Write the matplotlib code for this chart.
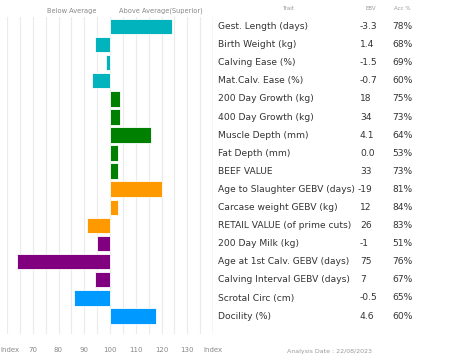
import numpy as np
import matplotlib
matplotlib.use("Agg")
import matplotlib.pyplot as plt

traits = [
    "Gest. Length (days)", "Birth Weight (kg)", "Calving Ease (%)",
    "Mat.Calv. Ease (%)", "200 Day Growth (kg)", "400 Day Growth (kg)",
    "Muscle Depth (mm)", "Fat Depth (mm)", "BEEF VALUE",
    "Age to Slaughter GEBV (days)", "Carcase weight GEBV (kg)",
    "RETAIL VALUE (of prime cuts)", "200 Day Milk (kg)",
    "Age at 1st Calv. GEBV (days)", "Calving Interval GEBV (days)",
    "Scrotal Circ (cm)", "Docility (%)",
]
ebv = ["-3.3", "1.4", "-1.5", "-0.7", "18", "34", "4.1", "0.0", "33",
       "-19", "12", "26", "-1", "75", "7", "-0.5", "4.6"]
acc = ["78%", "68%", "69%", "60%", "75%", "73%", "64%", "53%", "73%",
       "81%", "84%", "83%", "51%", "76%", "67%", "65%", "60%"]
index_vals = [124, 94, 98.5, 93, 104, 104, 116, 103, 103,
              120, 103, 91, 95, 64, 94, 86, 118]
groups = ["calving"] * 4 + ["growth"] * 5 + ["carcase"] * 3 + ["female"] * 3 + ["other"] * 2
group_colors = {"calving": "#00B3BD", "growth": "#008000", "carcase": "#FF9900",
                "female": "#800080", "other": "#0099FF"}
tick_vals = [70, 80, 90, 100, 110, 120, 130, 140]
tick_labels = ["70", "80", "90", "100", "110", "120", "130", "Index"]

W, H = 453, 362
fig = plt.figure(figsize=(W / 100, H / 100), dpi=100)
plt.rcParams['font.family'] = ['DejaVu Sans']

ax = fig.add_axes([7 / W, 1 - 334 / H, 206 / W, 317 / H])
y = np.arange(len(traits))
cols = [group_colors[g] for g in groups]
vals = np.array(index_vals)
ax.barh(y, vals - 100, left=100, height=0.86, color=cols,
        edgecolor="white", linewidth=0.6, zorder=3)

ax.set_xlim(60, 140)
ax.set_ylim(17.0, -0.52)
for xv in np.arange(60, 141, 5):
    ax.axvline(xv, color="#ebebeb", lw=0.8, zorder=1)
ax.axvline(140, color="#d0d0d0", lw=0.9, zorder=2)
for s in ax.spines.values():
    s.set_visible(False)
ax.set_yticks([])
ax.set_xticks(tick_vals)
ax.set_xticklabels(tick_labels)
ax.tick_params(axis="x", length=0, pad=9.5, labelsize=5, labelcolor="#888888")

# left "Index" label sits at the image edge
fig.text(0.5 / W, 1 - 350 / H, "Index", fontsize=5, color="#888888",
         ha="left", va="center")

# headers
fig.text(72 / W, 1 - 11 / H, "Below Average", fontsize=4.8, color="#888888",
         ha="center", va="center")
fig.text(161 / W, 1 - 11 / H, "Above Average(Superior)", fontsize=4.8,
         color="#888888", ha="center", va="center")
fig.text(288 / W, 1 - 9 / H, "Trait", fontsize=4, color="#999999", ha="center", va="center")
fig.text(371 / W, 1 - 9 / H, "EBV", fontsize=4, color="#999999", ha="center", va="center")
fig.text(402 / W, 1 - 9 / H, "Acc %", fontsize=4, color="#999999", ha="center", va="center")

# table rows
for i, (t, e, a) in enumerate(zip(traits, ebv, acc)):
    yp = 1 - (26.5 + 18.1 * i) / H
    fig.text(218 / W, yp, t, fontsize=6.6, color="#333333", ha="left", va="center")
    ex = 358 if e == "-19" else 360
    fig.text(ex / W, yp, e, fontsize=6.6, color="#333333", ha="left", va="center")
    fig.text(392 / W, yp, a, fontsize=6.6, color="#333333", ha="left", va="center")

fig.text(287 / W, 1 - 352 / H, "Analysis Date : 22/08/2023", fontsize=4.5,
         color="#999999", ha="left", va="center")

fig.savefig("out.png", dpi=100, facecolor="white")
